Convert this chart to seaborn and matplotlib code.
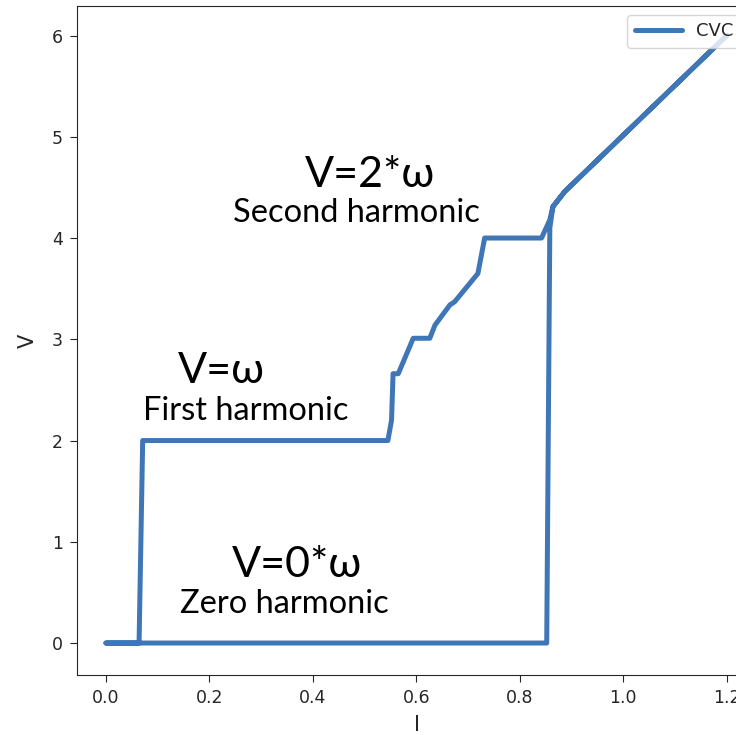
import matplotlib
matplotlib.use("Agg")
import matplotlib.pyplot as plt
import seaborn as sns
import pandas as pd

sns.set_style("ticks")
plt.rcParams["font.family"] = ["DejaVu Sans"]

# CVC curve: forward sweep up to I=1.2, then back down
current = [0.0, 0.064, 0.071, 0.545, 0.552, 0.555, 0.565, 0.594, 0.626, 0.636,
           0.665, 0.674, 0.719, 0.732, 0.842, 0.858, 0.864, 0.887, 1.2,
           0.887, 0.864, 0.858, 0.852, 0.0]
voltage = [0.0, 0.0, 2.0, 2.0, 2.2, 2.66, 2.66, 3.01, 3.01, 3.14,
           3.34, 3.37, 3.65, 4.0, 4.0, 4.18, 4.31, 4.46, 6.0,
           4.46, 4.31, 4.1, 0.0, 0.0]

# annotations (text, I, V, size)
ann_text = ["V=2*\u03c9", "Second harmonic", "V=\u03c9", "First harmonic",
            "V=0*\u03c9", "Zero harmonic"]
ann_I = [0.510, 0.485, 0.224, 0.271, 0.369, 0.344]
ann_V = [4.62, 4.25, 2.69, 2.29, 0.77, 0.39]
ann_size = [31, 23.5, 31, 23.5, 31, 23.5]

df = pd.DataFrame({"I": current, "V": voltage, "step": range(len(current))})

fig = plt.figure(figsize=(7.36, 7.35), dpi=100)
ax = fig.add_axes([0.1046, 0.0816, 0.925, 0.910])

sns.lineplot(data=df, x="I", y="V", sort=False, estimator=None,
             color="#3f77b6", linewidth=3.6, label="CVC", ax=ax)

for t, x, y, s in zip(ann_text, ann_I, ann_V, ann_size):
    ax.text(x, y, t, ha="center", va="center", fontsize=s,
            family=["Lato", "DejaVu Sans"], color="black")

ax.set_xlim(-0.056, 1.26)
ax.set_ylim(-0.316, 6.29)
ax.set_xticks([0.0, 0.2, 0.4, 0.6, 0.8, 1.0, 1.2])
ax.set_yticks([0, 1, 2, 3, 4, 5, 6])
ax.tick_params(labelsize=12.5, length=5, pad=5)
ax.set_xlabel("I", fontsize=15, labelpad=6)
ax.set_ylabel("V", fontsize=15, labelpad=10)
ax.legend(loc="upper right", bbox_to_anchor=(0.988, 1.0), fontsize=13,
          handlelength=2.6)

fig.savefig("out.png", dpi=100)
